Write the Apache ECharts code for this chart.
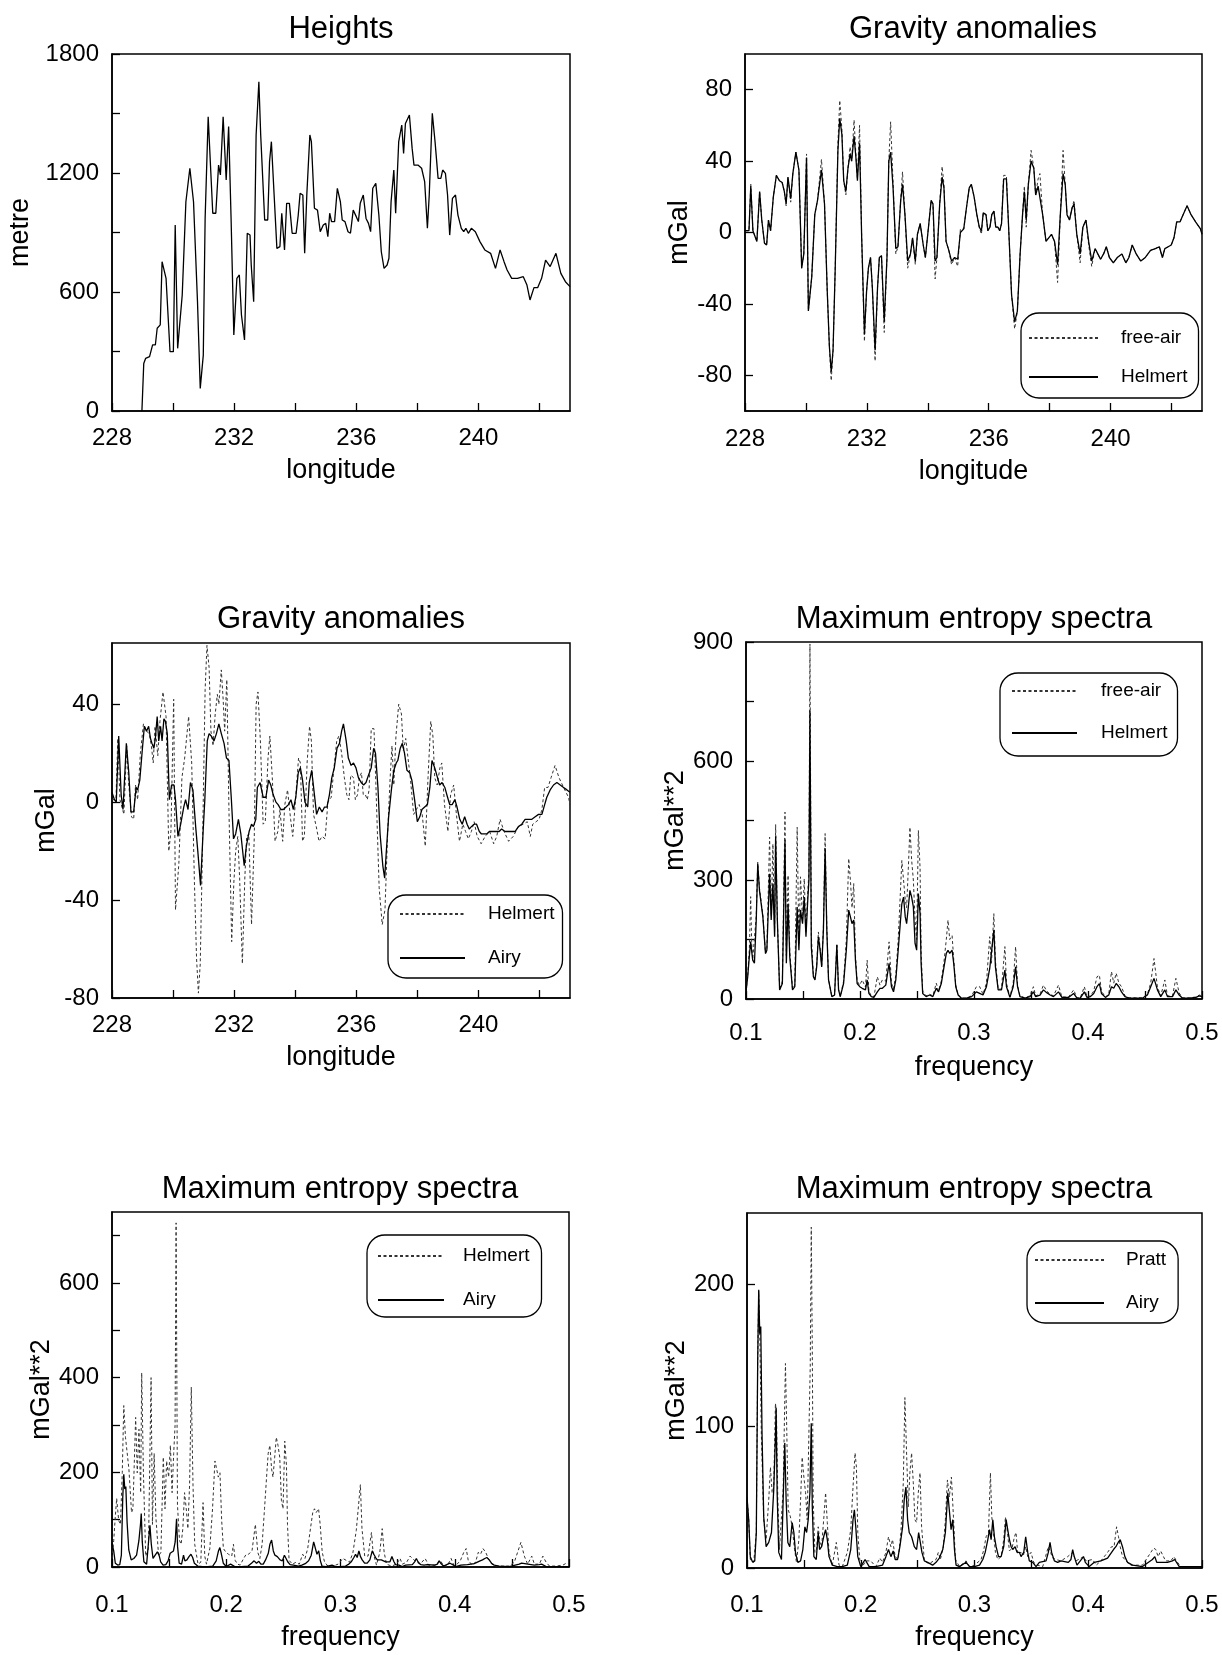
<!DOCTYPE html>
<html><head><meta charset="utf-8">
<script src="https://cdn.jsdelivr.net/npm/echarts@6/dist/echarts.min.js"></script>
<style>html,body{margin:0;padding:0;background:#fff}#c{width:1222px;height:1655px}</style>
</head><body><div id="c"></div>
<script>
// ---------- Panel 1: Heights ----------
const lonH = [228.98,229.04,229.10,229.23,229.33,229.42,229.48,229.58,229.64,229.77,
229.90,230.01,230.07,230.15,230.30,230.42,230.55,230.67,230.80,230.89,
230.99,231.05,231.15,231.30,231.40,231.49,231.55,231.64,231.74,231.82,
231.90,231.99,232.09,232.17,232.24,232.34,232.43,232.52,232.56,232.64,
232.72,232.81,232.87,233.00,233.10,233.16,233.22,233.31,233.40,233.50,
233.56,233.65,233.72,233.81,233.90,234.03,234.10,234.16,234.25,234.31,
234.38,234.48,234.53,234.63,234.73,234.82,234.92,235.00,235.07,235.13,
235.19,235.29,235.38,235.48,235.54,235.63,235.73,235.81,235.90,236.00,
236.07,236.13,236.23,236.32,236.40,236.47,236.54,236.64,236.74,236.82,
236.91,237.01,237.07,237.14,237.23,237.29,237.39,237.49,237.55,237.61,
237.74,237.83,237.89,238.02,238.14,238.24,238.33,238.39,238.49,238.58,
238.68,238.77,238.83,238.92,238.99,239.06,239.15,239.25,239.33,239.44,
239.52,239.59,239.67,239.77,239.90,240.05,240.21,240.40,240.56,240.71,
240.84,240.94,241.09,241.28,241.47,241.59,241.69,241.82,241.94,242.07,
242.20,242.35,242.54,242.70,242.85,243.00];
const heights = [0,240,265,274,333,333,417,434,753,669,
299,299,938,316,585,1055,1224,1055,551,114,
282,971,1484,997,997,1240,1190,1484,1165,1434,
971,383,669,686,484,358,896,887,736,551,
1392,1660,1392,963,963,1257,1358,1089,820,829,
997,812,1047,1047,896,896,988,1097,1089,795,
1089,1392,1358,1022,1013,904,938,946,879,997,
955,955,1123,1055,963,955,904,896,1013,980,
955,1047,1089,971,946,904,1123,1148,988,803,
719,736,770,1055,1215,997,1358,1442,1299,1450,
1492,1324,1240,1240,1224,1156,921,1089,1501,1358,
1173,1173,1215,1198,1089,887,1072,1089,988,921,
904,921,896,921,904,854,812,795,719,812,
753,711,669,669,677,635,560,622,622,669,
761,728,795,694,652,627];

// ---------- Panel 2/3: gravity anomalies ----------
const lonG = [228.00,228.13,228.19,228.26,228.32,228.39,228.48,228.55,228.64,228.71,
228.77,228.84,228.93,229.03,229.13,229.22,229.29,229.35,229.41,229.50,
229.57,229.67,229.77,229.86,229.93,230.02,230.08,230.19,230.29,230.38,
230.51,230.61,230.70,230.77,230.83,230.89,230.96,231.05,231.11,231.18,
231.24,231.31,231.38,231.45,231.50,231.58,231.64,231.69,231.76,231.83,
231.92,231.99,232.05,232.12,232.18,232.27,232.35,232.41,232.48,232.57,
232.66,232.72,232.78,232.86,232.95,233.02,233.11,233.17,233.25,233.34,
233.43,233.50,233.59,233.66,233.75,233.85,233.92,234.01,234.11,234.17,
234.24,234.30,234.39,234.47,234.53,234.60,234.69,234.78,234.88,234.98,
235.07,235.18,235.27,235.36,235.43,235.52,235.61,235.69,235.76,235.82,
235.91,235.97,236.04,236.10,236.17,236.23,236.30,236.36,236.42,236.49,
236.58,236.64,236.75,236.85,236.94,237.03,237.11,237.17,237.23,237.30,
237.39,237.48,237.54,237.62,237.68,237.77,237.88,237.97,238.06,238.16,
238.26,238.35,238.44,238.51,238.57,238.65,238.74,238.80,238.89,239.00,
239.09,239.19,239.28,239.38,239.49,239.58,239.67,239.77,239.86,239.96,
240.09,240.22,240.37,240.50,240.60,240.71,240.84,240.99,241.14,241.31,
241.47,241.60,241.70,241.78,241.89,241.99,242.08,242.17,242.28,242.38,
242.51,242.64,242.79,242.95,243.00];
const helmertG = [1,1,26,1,1,-5,23,7,-6,-7,
7,1,20,32,29,28,23,16,31,19,
33,45,35,-20,-12,42,-44,-25,10,18,
35,16,-33,-64,-78,-66,-21,46,64,55,
29,23,36,44,40,54,42,29,50,-3,
-57,-33,-20,-14,-31,-66,-31,-14,-13,-50,
-14,40,45,25,-9,-8,18,27,10,-16,
-12,-3,-16,-1,5,-7,-14,1,18,16,
-16,-14,16,31,25,-5,-10,-16,-14,-15,
0,2,14,25,27,20,10,3,1,11,
10,1,3,10,12,3,3,1,5,30,
30,8,-35,-50,-44,-12,10,23,7,27,
40,36,21,26,26,10,-5,-3,-1,-5,
-18,10,33,27,10,7,14,16,-1,-12,
3,7,-5,-16,-9,-12,-15,-12,-8,-14,
-17,-14,-12,-17,-14,-7,-12,-16,-14,-10,
-9,-8,-14,-9,-8,-7,-3,6,6,10,
15,10,6,2,-1];
const freeAirG = [1,1,27,1,1,-5,23,7,-6,-7,
7,1,20,32,29,28,23,15,31,17,
33,45,35,-20,-12,44,-44,-25,10,18,
41,16,-33,-64,-83,-66,-21,50,74,58,
29,21,36,48,40,63,44,30,60,-3,
-61,-33,-20,-14,-31,-72,-31,-14,-13,-56,
-14,40,62,28,-12,-8,18,34,10,-20,
-12,-3,-18,-1,5,-7,-14,1,18,16,
-26,-14,16,37,27,-5,-10,-18,-14,-19,
2,2,14,25,27,20,10,3,-1,11,
10,1,3,10,12,3,3,1,5,32,
32,8,-35,-54,-44,-12,10,26,3,27,
46,36,21,30,33,10,-5,-3,-1,-5,
-28,10,46,27,10,7,14,18,-1,-17,
3,7,-7,-19,-9,-12,-15,-12,-8,-14,
-17,-14,-12,-17,-14,-7,-12,-16,-14,-10,
-9,-8,-14,-9,-8,-7,-3,6,6,10,
15,10,6,2,-1];
const lonA = [228.00,228.08,228.14,228.22,228.30,228.36,228.47,228.55,228.62,228.71,
228.79,228.84,228.91,228.99,229.06,229.13,229.20,229.26,229.31,229.37,
229.42,229.48,229.53,229.59,229.64,229.70,229.75,229.81,229.88,229.95,
230.03,230.08,230.16,230.25,230.35,230.41,230.49,230.57,230.65,230.74,
230.81,230.90,230.98,231.04,231.12,231.18,231.25,231.34,231.42,231.50,
231.58,231.67,231.75,231.83,231.91,231.98,232.05,232.14,232.22,232.33,
232.40,232.49,232.57,232.63,232.71,232.76,232.85,232.95,233.04,233.13,
233.20,233.28,233.37,233.44,233.53,233.61,233.70,233.78,233.86,233.94,
234.02,234.10,234.17,234.24,234.32,234.41,234.46,234.54,234.63,234.70,
234.79,234.88,234.96,235.04,235.12,235.20,235.28,235.37,235.45,235.52,
235.58,235.67,235.74,235.83,235.91,235.99,236.07,236.16,236.24,236.32,
236.40,236.49,236.57,236.63,236.71,236.78,236.87,236.93,236.98,237.06,
237.15,237.23,237.31,237.36,237.44,237.51,237.58,237.66,237.75,237.82,
237.91,238.00,238.08,238.15,238.24,238.33,238.41,238.48,238.57,238.66,
238.73,238.81,238.90,238.99,239.06,239.14,239.23,239.30,239.39,239.47,
239.55,239.63,239.70,239.77,239.86,239.94,240.03,240.10,240.19,240.27,
240.36,240.43,240.51,240.60,240.68,240.76,240.87,240.98,241.09,241.20,
241.31,241.42,241.53,241.64,241.75,241.86,241.97,242.08,242.17,242.24,
242.35,242.46,242.57,242.68,242.79,242.90,243.00];
const airyG = [4,1,0,27,3,-3,24,12,-4,-4,
6,5,9,21,31,29,31,26,24,22,
26,35,25,31,25,34,33,28,1,7,
7,1,-14,-9,-2,1,-3,8,5,-10,
-20,-34,-13,1,25,28,27,25,28,32,
28,24,18,17,1,-15,-13,-7,-13,-26,
-18,-12,-9,-10,-7,6,8,2,2,9,
7,3,0,-1,-3,-3,-2,-1,1,-3,
2,12,14,9,0,-2,8,13,3,-5,
-2,-4,-2,-2,3,10,14,22,24,29,
32,25,18,15,16,14,10,8,7,8,
11,14,22,20,6,-13,-26,-31,-21,-6,
5,13,16,17,22,24,20,13,12,9,
1,-8,-6,-3,-2,-1,6,17,14,10,
7,8,6,2,-1,-1,1,-2,-7,-9,
-6,-9,-11,-10,-9,-9,-12,-13,-13,-13,
-12,-12,-12,-12,-12,-11,-12,-12,-12,-12,
-10,-9,-7,-7,-7,-6,-5,-5,-1,2,
5,7,8,7,6,5,4];

// ---------- Panels 4-6: maximum entropy spectra ----------
const specF = [0.1000,0.1015,0.1030,0.1041,0.1050,0.1059,0.1074,0.1090,0.1103,0.1118,
0.1148,0.1171,0.1183,0.1207,0.1221,0.1236,0.1251,0.1260,0.1275,0.1295,
0.1319,0.1342,0.1354,0.1369,0.1384,0.1408,0.1428,0.1449,0.1464,0.1478,
0.1496,0.1511,0.1526,0.1540,0.1552,0.1561,0.1573,0.1591,0.1605,0.1620,
0.1635,0.1650,0.1664,0.1679,0.1694,0.1709,0.1724,0.1753,0.1777,0.1797,
0.1812,0.1827,0.1856,0.1880,0.1901,0.1916,0.1930,0.1945,0.1960,0.1975,
0.1998,0.2019,0.2048,0.2063,0.2078,0.2099,0.2122,0.2152,0.2175,0.2196,
0.2226,0.2255,0.2276,0.2294,0.2314,0.2335,0.2353,0.2367,0.2382,0.2397,
0.2409,0.2424,0.2438,0.2453,0.2468,0.2483,0.2497,0.2512,0.2527,0.2536,
0.2550,0.2580,0.2610,0.2639,0.2669,0.2689,0.2713,0.2737,0.2757,0.2772,
0.2787,0.2808,0.2822,0.2840,0.2861,0.2890,0.2934,0.2979,0.3021,0.3050,
0.3079,0.3109,0.3138,0.3153,0.3174,0.3188,0.3212,0.3241,0.3271,0.3285,
0.3315,0.3344,0.3365,0.3382,0.3403,0.3447,0.3491,0.3521,0.3541,0.3579,
0.3609,0.3638,0.3668,0.3697,0.3741,0.3771,0.3829,0.3874,0.3903,0.3932,
0.3968,0.3991,0.4021,0.4050,0.4079,0.4100,0.4118,0.4153,0.4182,0.4206,
0.4226,0.4247,0.4271,0.4294,0.4324,0.4359,0.4418,0.4476,0.4521,0.4550,
0.4579,0.4609,0.4638,0.4674,0.4697,0.4741,0.4771,0.4800,0.4829,0.4888,
0.4947,0.4976,0.5000];
const helmertS = [18,56,110,145,120,98,90,200,341,274,
207,115,123,316,199,291,157,410,199,23,
39,400,90,240,106,23,31,232,123,224,
190,257,157,240,299,727,131,56,48,81,
157,123,81,173,380,173,48,6,10,136,
23,6,39,123,224,207,190,199,98,39,
31,27,23,48,14,6,4,18,27,27,
35,90,31,18,48,123,190,240,257,207,
190,232,274,257,232,140,123,266,215,90,
14,6,10,6,27,18,39,81,115,123,
115,123,90,31,10,2,2,6,18,14,
10,31,77,73,174,81,23,23,73,31,
4,31,81,31,6,2,6,18,6,10,
23,16,10,6,18,4,4,14,2,2,
18,4,6,14,31,39,14,4,10,31,
27,39,31,18,6,2,2,2,10,31,
52,23,6,23,6,6,23,10,2,2,
4,8,6];
const freeAirS = [18,60,130,258,140,100,95,210,345,280,
210,115,125,408,210,391,170,440,200,25,
45,471,110,312,120,25,35,433,140,308,
200,303,170,260,320,895,160,60,50,85,
169,130,85,180,417,180,50,6,10,140,
25,6,45,150,354,299,230,291,110,45,
35,48,30,98,20,8,5,56,35,48,
45,144,40,25,60,150,260,349,300,250,
230,330,433,350,300,200,150,425,330,120,
20,8,12,8,40,20,45,95,150,199,
150,160,100,35,10,2,2,8,31,31,
12,40,157,90,215,95,25,25,132,40,
5,40,132,35,8,3,8,31,8,12,
35,20,12,8,35,5,5,23,3,3,
31,5,8,20,56,60,20,5,12,69,
40,65,40,31,8,3,3,3,12,40,
102,30,8,48,8,8,52,15,3,3,
5,10,8];
const airyF = [0.1000,0.1015,0.1029,0.1050,0.1068,0.1082,0.1094,0.1103,0.1112,0.1121,
0.1132,0.1147,0.1168,0.1191,0.1215,0.1235,0.1250,0.1256,0.1265,0.1279,
0.1303,0.1318,0.1332,0.1344,0.1359,0.1376,0.1397,0.1412,0.1426,0.1447,
0.1471,0.1491,0.1509,0.1524,0.1538,0.1553,0.1565,0.1574,0.1588,0.1609,
0.1626,0.1638,0.1656,0.1674,0.1691,0.1706,0.1721,0.1750,0.1794,0.1838,
0.1882,0.1912,0.1932,0.1944,0.1956,0.1974,0.2000,0.2038,0.2074,0.2132,
0.2191,0.2221,0.2244,0.2265,0.2285,0.2303,0.2324,0.2344,0.2368,0.2382,
0.2397,0.2412,0.2426,0.2447,0.2471,0.2491,0.2509,0.2524,0.2538,0.2559,
0.2588,0.2632,0.2662,0.2691,0.2721,0.2744,0.2765,0.2779,0.2794,0.2809,
0.2824,0.2838,0.2868,0.2926,0.2956,0.3000,0.3044,0.3073,0.3094,0.3117,
0.3132,0.3146,0.3161,0.3175,0.3190,0.3211,0.3234,0.3257,0.3278,0.3292,
0.3307,0.3322,0.3336,0.3357,0.3374,0.3395,0.3409,0.3433,0.3450,0.3468,
0.3482,0.3512,0.3541,0.3570,0.3629,0.3649,0.3664,0.3678,0.3702,0.3731,
0.3760,0.3825,0.3848,0.3863,0.3877,0.3901,0.3959,0.3974,0.4009,0.4053,
0.4111,0.4170,0.4222,0.4243,0.4263,0.4281,0.4301,0.4322,0.4345,0.4389,
0.4477,0.4564,0.4585,0.4602,0.4696,0.4740,0.4760,0.4800,0.5000];
const airyS = [50,34,8,4,5,25,146,196,165,170,
95,36,15,18,25,55,92,113,53,11,
6,48,88,48,18,15,32,25,11,4,
5,13,29,25,34,53,102,43,8,6,
25,13,15,22,27,20,8,2,1,1,
2,13,34,41,29,8,1,6,1,1,
2,8,13,8,12,6,6,15,29,48,
57,34,25,22,15,13,25,25,11,5,
4,2,4,7,13,25,53,53,27,34,
13,2,1,4,1,1,2,6,11,20,
27,20,34,22,15,8,8,15,34,27,
20,15,13,15,11,11,8,11,22,11,
5,4,1,4,5,11,18,11,5,4,
5,4,6,13,8,2,8,4,1,4,
5,7,13,15,18,20,15,8,4,2,
1,6,8,4,4,5,6,1,1];
const prattF = [0.1000,0.1015,0.1029,0.1059,0.1082,0.1094,0.1103,0.1112,0.1126,0.1147,
0.1168,0.1191,0.1206,0.1221,0.1235,0.1250,0.1259,0.1271,0.1285,0.1300,
0.1318,0.1338,0.1350,0.1362,0.1382,0.1397,0.1418,0.1435,0.1456,0.1471,
0.1485,0.1500,0.1515,0.1529,0.1544,0.1556,0.1565,0.1574,0.1582,0.1597,
0.1612,0.1626,0.1641,0.1656,0.1676,0.1691,0.1706,0.1721,0.1750,0.1785,
0.1809,0.1838,0.1882,0.1912,0.1932,0.1950,0.1962,0.1974,0.1991,0.2015,
0.2044,0.2088,0.2132,0.2168,0.2191,0.2221,0.2244,0.2265,0.2279,0.2303,
0.2329,0.2353,0.2374,0.2388,0.2403,0.2418,0.2432,0.2447,0.2462,0.2476,
0.2491,0.2506,0.2521,0.2535,0.2559,0.2600,0.2662,0.2682,0.2700,0.2726,
0.2744,0.2762,0.2779,0.2797,0.2815,0.2832,0.2868,0.2926,0.2956,0.3000,
0.3058,0.3082,0.3102,0.3123,0.3140,0.3152,0.3167,0.3184,0.3205,0.3234,
0.3257,0.3272,0.3287,0.3307,0.3330,0.3351,0.3365,0.3380,0.3409,0.3430,
0.3450,0.3468,0.3497,0.3520,0.3555,0.3600,0.3649,0.3664,0.3687,0.3715,
0.3760,0.3819,0.3863,0.3892,0.3959,0.3980,0.4038,0.4070,0.4111,0.4170,
0.4205,0.4227,0.4249,0.4266,0.4281,0.4301,0.4330,0.4375,0.4477,0.4550,
0.4575,0.4594,0.4614,0.4637,0.4655,0.4680,0.4725,0.4754,0.4775,0.4813,
0.5000];
const prattS = [50,34,6,4,25,146,195,165,95,34,
20,48,71,53,57,116,109,48,13,12,
55,144,95,41,36,29,13,4,20,48,
78,64,53,34,34,142,240,153,48,11,
13,29,18,15,36,53,32,11,2,18,
2,1,11,27,57,81,71,25,6,1,
5,5,1,7,4,11,22,15,20,8,
6,25,60,120,81,43,67,81,60,34,
32,53,67,29,5,3,6,11,6,15,
34,62,50,64,36,6,1,5,1,2,
6,13,22,25,67,36,25,11,6,8,
20,36,27,12,14,22,25,10,11,9,
15,8,11,4,2,1,15,12,7,6,
5,8,11,5,8,5,6,2,5,11,
15,15,29,22,15,8,5,2,2,11,
14,13,8,12,9,5,5,8,5,1,
1];

// ---------- tick / label values ----------
const lonTicks = [228,230,232,234,236,238,240,242];
const lonLabels = [228,232,236,240];
const freqTicks = [0.1,0.15,0.2,0.25,0.3,0.35,0.4,0.45,0.5];
const freqLabels = [0.1,0.2,0.3,0.4,0.5];

const FR = "'Liberation Sans',Arial,sans-serif";
const zip = (xs, ys) => xs.slice(0, Math.min(xs.length, ys.length)).map((x, i) => [x, ys[i]]);
const plain = v => String(v);

const grids = [
  {left:112, top:54, width:458, height:357},
  {left:745, top:54, width:457, height:357},
  {left:112, top:643, width:458, height:355},
  {left:746, top:642, width:456, height:357},
  {left:112, top:1212, width:457, height:355},
  {left:747, top:1213, width:455, height:355}
].map(g => Object.assign({show:true, borderColor:'#000', borderWidth:1.5, containLabel:false}, g));

function xAx(gi, min, max, ticks, labels, name, margin, gap) {
  return {type:'value', gridIndex:gi, min, max,
    axisLine:{show:true, onZero:false, lineStyle:{color:'#000', width:1.5}},
    axisTick:{show:true, inside:true, length:8, customValues:ticks, lineStyle:{color:'#000', width:1.3}},
    axisLabel:{customValues:labels, margin, color:'#000', fontSize:24, fontFamily:FR, formatter:plain},
    splitLine:{show:false},
    name, nameLocation:'middle', nameGap:gap,
    nameTextStyle:{color:'#000', fontSize:27, fontFamily:FR}};
}
function yAx(gi, min, max, ticks, labels, name, gap) {
  return {type:'value', gridIndex:gi, min, max,
    axisLine:{show:true, onZero:false, lineStyle:{color:'#000', width:1.5}},
    axisTick:{show:true, inside:true, length:8, customValues:ticks, lineStyle:{color:'#000', width:1.3}},
    axisLabel:{customValues:labels, margin:13, color:'#000', fontSize:24, fontFamily:FR, formatter:plain},
    splitLine:{show:false},
    name, nameLocation:'middle', nameGap:gap, nameRotate:90,
    nameTextStyle:{color:'#000', fontSize:27, fontFamily:FR}};
}

const solid = {color:'#000', width:1.3, type:'solid'};
const dotted = {color:'#333', width:1, type:[3,2.5]};
function ser(name, gi, data, ls, z) {
  return {type:'line', name, xAxisIndex:gi, yAxisIndex:gi, data, symbol:'none', showSymbol:false,
    lineStyle:ls, itemStyle:{color:ls.color}, z, animation:false, silent:true};
}

// legend box: names, left, top, icon width, text pad, gap, padding [t,r,b,l]
function leg(names, left, top, iconW, textPad, gap, pad) {
  return {data:names, left, top, orient:'vertical', selectedMode:false,
    itemWidth:iconW, itemHeight:14, itemGap:gap, padding:pad,
    itemStyle:{opacity:0, borderWidth:0},
    borderColor:'#000', borderWidth:1.3, borderRadius:18, backgroundColor:'#fff',
    formatter: n => n.split('#')[0],
    textStyle:{color:'#000', fontSize:19, fontFamily:FR, lineHeight:20, padding:[0,0,0,textPad]}};
}

function titleText(text, x, y) {
  return {type:'text', x, y, silent:true,
    style:{text, fill:'#000', font:"31px 'Liberation Sans', Arial, sans-serif",
      align:'center', verticalAlign:'middle', textAlign:'center', textVerticalAlign:'middle'}};
}

const option = {
  animation:false,
  backgroundColor:'#fff',
  grid: grids,
  xAxis: [
    xAx(0, 228, 243, lonTicks, lonLabels, 'longitude', 15, 46),
    xAx(1, 228, 243, lonTicks, lonLabels, 'longitude', 16, 47),
    xAx(2, 228, 243, lonTicks, lonLabels, 'longitude', 15, 46),
    xAx(3, 0.1, 0.5, freqTicks, freqLabels, 'frequency', 22, 55),
    xAx(4, 0.1, 0.5, freqTicks, freqLabels, 'frequency', 26, 57),
    xAx(5, 0.1, 0.5, freqTicks, freqLabels, 'frequency', 25, 56)
  ],
  yAxis: [
    yAx(0, 0, 1800, [0,300,600,900,1200,1500,1800], [0,600,1200,1800], 'metre', 78),
    yAx(1, -100, 100, [-80,-40,0,40,80], [-80,-40,0,40,80], 'mGal', 51),
    yAx(2, -80, 65, [-80,-40,0,40], [-80,-40,0,40], 'mGal', 51),
    yAx(3, 0, 900, [0,150,300,450,600,750,900], [0,300,600,900], 'mGal**2', 52),
    yAx(4, 0, 750, [0,100,200,300,400,500,600,700], [0,200,400,600], 'mGal**2', 55),
    yAx(5, 0, 250, [0,100,200], [0,100,200], 'mGal**2', 55)
  ],
  legend: [
    leg(['free-air#2','Helmert#2'], 1021, 313, 69, 18, 19, [15,11,11,7]),
    leg(['Helmert#3','Airy#3'], 388, 895, 65, 18, 24, [9,8,10,11]),
    leg(['free-air#4','Helmert#4'], 1000, 673, 65, 19, 22, [8,10,13,11]),
    leg(['Helmert#5','Airy#5'], 367, 1235, 66, 14, 24, [11,12,7,10]),
    leg(['Pratt#6','Airy#6'], 1027, 1241, 69, 17, 23, [9,12,10,7])
  ],
  series: [
    ser('Heights', 0, zip(lonH, heights), solid, 3),
    ser('free-air#2', 1, zip(lonG, freeAirG), dotted, 2),
    ser('Helmert#2', 1, zip(lonG, helmertG), solid, 3),
    ser('Helmert#3', 2, zip(lonG, helmertG), dotted, 2),
    ser('Airy#3', 2, zip(lonA, airyG), solid, 3),
    ser('free-air#4', 3, zip(specF, freeAirS), dotted, 2),
    ser('Helmert#4', 3, zip(specF, helmertS), solid, 3),
    ser('Helmert#5', 4, zip(specF, helmertS), dotted, 2),
    ser('Airy#5', 4, zip(airyF, airyS), solid, 3),
    ser('Pratt#6', 5, zip(prattF, prattS), dotted, 2),
    ser('Airy#6', 5, zip(airyF, airyS), solid, 3)
  ],
  graphic: [
    titleText('Heights', 341, 29),
    titleText('Gravity anomalies', 973, 29),
    titleText('Gravity anomalies', 341, 619),
    titleText('Maximum entropy spectra', 974, 619),
    titleText('Maximum entropy spectra', 340, 1189),
    titleText('Maximum entropy spectra', 974, 1189)
  ]
};

const chart = echarts.init(document.getElementById('c'), null, {renderer:'canvas', width:1222, height:1655});
chart.setOption(option);
</script>
</body></html>
